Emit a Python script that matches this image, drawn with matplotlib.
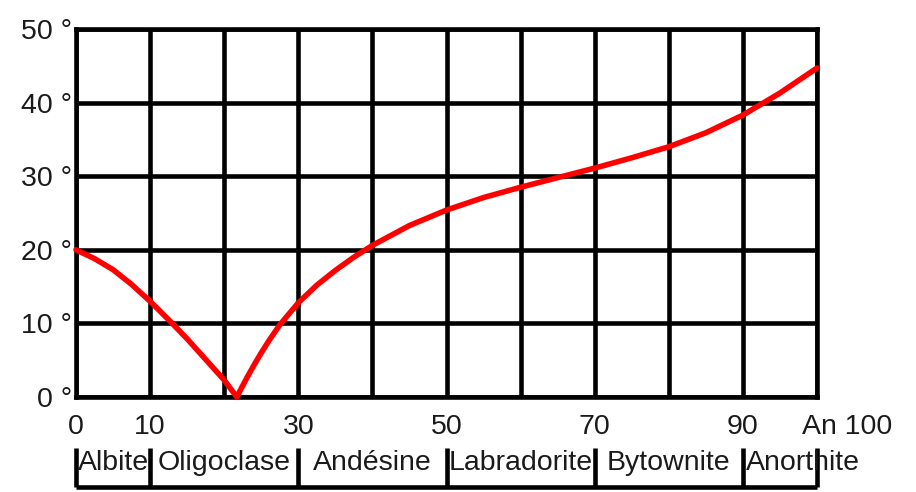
import matplotlib
matplotlib.use("Agg")
import matplotlib.pyplot as plt
import matplotlib.transforms as mtransforms

plt.rcParams['font.family'] = ['Liberation Sans', 'DejaVu Sans']

# Data
an_content = [0, 2.5, 5, 7.5, 10, 12.5, 15, 17.5, 20, 21.7, 23, 24, 25, 26, 27.5, 30,
              32.5, 35, 37.5, 40, 45, 50, 55, 60, 65, 70, 75, 80, 85, 90, 95, 100]
angle_deg = [20, 18.8, 17.3, 15.3, 13.0, 10.5, 7.9, 5.1, 2.3, 0, 2.5, 4.3, 6.0, 7.6, 9.8, 12.8,
             15.2, 17.2, 19.0, 20.6, 23.3, 25.4, 27.1, 28.5, 29.8, 31.1, 32.5, 34.0, 35.9, 38.3, 41.3, 44.7]

y_ticks = [0, 10, 20, 30, 40, 50]
y_tick_labels = ["0 °", "10 °", "20 °", "30 °", "40 °", "50 °"]
x_grid = [0, 10, 20, 30, 40, 50, 60, 70, 80, 90, 100]
x_ticks = [0, 10, 30, 50, 70, 90, 100]
x_tick_labels = ["0", "10", "30", "50", "70", "90", "An 100"]

mineral_names = ["Albite", "Oligoclase", "Andésine", "Labradorite", "Bytownite", "Anorthite"]
mineral_bounds = [0, 10, 30, 50, 70, 90, 100]

W, H = 916, 492
LW = 3.3
TXT = '#1a1a1a'
FS = 20.5
fig = plt.figure(figsize=(W / 100, H / 100), dpi=100)
ax = fig.add_axes([76 / W, 1 - 397 / H, (817 - 76) / W, (397 - 29) / H])

ax.set_xlim(0, 100)
ax.set_ylim(0, 50)
ax.set_yticks(y_ticks)
ax.set_yticklabels(y_tick_labels)
ax.set_xticks(x_ticks)
ax.set_xticklabels(x_tick_labels)
ax.grid(True, axis='y', color='black', linewidth=LW)
for xv in x_grid:
    ax.axvline(xv, color='black', linewidth=LW, zorder=1)
for s in ax.spines.values():
    s.set_linewidth(LW)
    s.set_color('black')

ax.tick_params(axis='x', length=0, pad=12, labelsize=FS, colors=TXT)
ax.tick_params(axis='y', length=0, pad=3, labelsize=FS, colors=TXT)
last = ax.get_xticklabels()[-1]
last.set_horizontalalignment('left')
last.set_transform(last.get_transform() + mtransforms.ScaledTranslation(-15 / 100, 0, fig.dpi_scale_trans))

ax.plot(an_content, angle_deg, color='#ff0000', linewidth=4.0, solid_capstyle='round',
        solid_joinstyle='round', zorder=5, clip_on=False)

# Mineral band below
bax = fig.add_axes([76 / W, 1 - 487 / H, (817 - 76) / W, (487 - 448) / H])
bax.set_xlim(0, 100)
bax.set_ylim(0, 1)
bax.axis('off')
bax.vlines(mineral_bounds, 0, 1, color='black', linewidth=LW, clip_on=False)
bax.hlines(0, mineral_bounds[0], mineral_bounds[-1], color='black', linewidth=LW, clip_on=False)
for i, name in enumerate(mineral_names):
    lo, hi = mineral_bounds[i], mineral_bounds[i + 1]
    if i == len(mineral_names) - 1:
        bax.text(lo + 0.4, 0.62, name, ha='left', va='center', fontsize=FS, color=TXT)
    else:
        bax.text((lo + hi) / 2, 0.62, name, ha='center', va='center', fontsize=FS, color=TXT)

fig.savefig("out.png", dpi=100)
